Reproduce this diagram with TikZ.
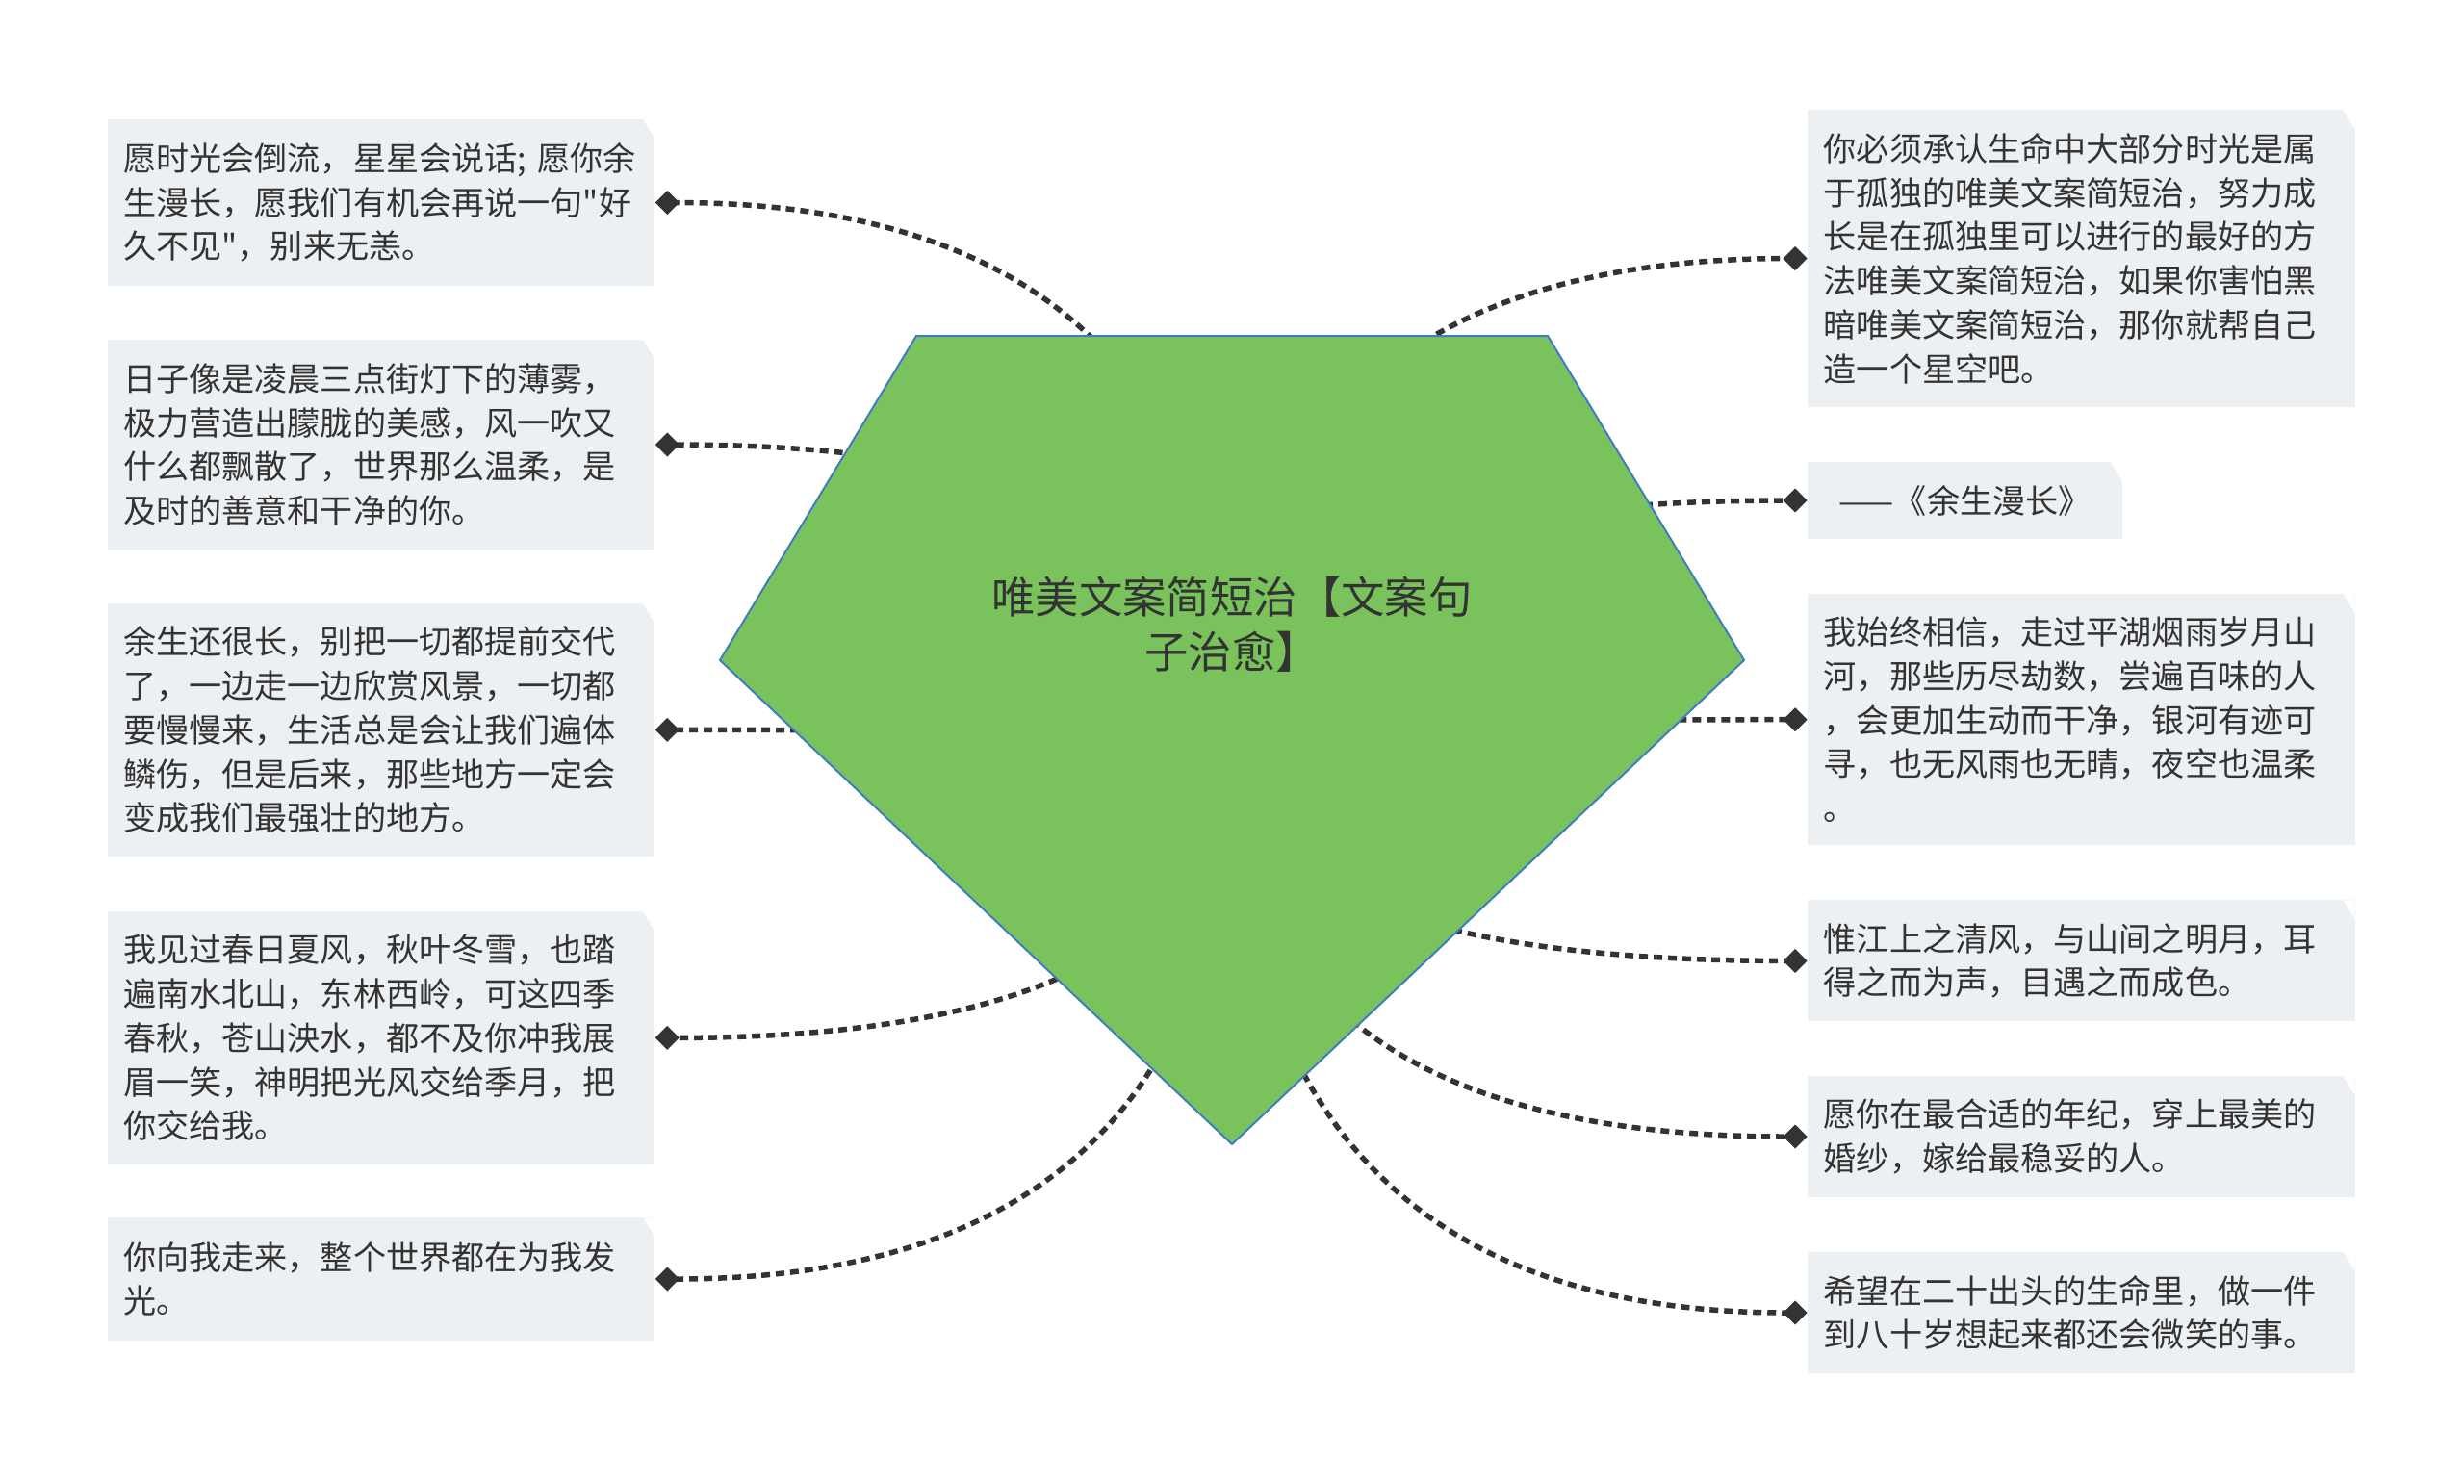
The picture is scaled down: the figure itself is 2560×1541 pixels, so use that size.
\documentclass[tikz,border=0pt]{standalone}
\usepackage{fontspec}
\setmainfont{Noto Sans CJK SC}
\usepackage{xcolor}
\usepackage{tikz}
\usetikzlibrary{arrows.meta,calc}

\definecolor{leaffill}{HTML}{EDF0F3}
\definecolor{hubgreen}{HTML}{7AC35C}
\definecolor{hubedge}{HTML}{3F7CC4}
\definecolor{inkgray}{HTML}{333333}

\begin{document}
\begin{tikzpicture}[
  x=0.01cm, y=-0.01cm,
  leaf/.style={rectangle,fill=leaffill,minimum width=5.68cm,text width=5.35cm,inner xsep=0.165cm,inner ysep=0.1cm,
    align=left,text=inkgray,font=\fontsize{9.7pt}{13pt}\selectfont,
    path picture={\fill[white] (path picture bounding box.north east) -- ++(-0.12cm,0cm) -- ++(0.12cm,-0.2cm) -- cycle;}},
  hub/.style={draw=hubedge,fill=hubgreen,line width=0.02cm},
  title/.style={align=center,text=inkgray,font=\fontsize{12.9pt}{16.2pt}\selectfont},
  link/.style={draw=inkgray,line width=0.055cm,dash pattern=on 0.09cm off 0.06cm,-{Diamond[length=0.25cm,width=0.25cm]},
    to path={.. controls ($(\tikztostart)!2/3!(\tikztostart |- \tikztotarget)$) and ($(\tikztotarget)!2/3!(\tikztostart |- \tikztotarget)$) .. (\tikztotarget)}}
]
  \useasboundingbox (0,0) rectangle (2560,1541);

  % Hub point behind the pentagon
  \coordinate (hub) at (1280,767);

  % Left leaves
  \node[leaf,minimum height=1.73cm,anchor=east] (l1) at (680.8,210.5) {愿时光会倒流，星星会说话; 愿你余\\生漫长，愿我们有机会再说一句\textquotedbl 好\\久不见\textquotedbl ，别来无恙。};
  \node[leaf,minimum height=2.187cm,anchor=east] (l2) at (680.8,462) {日子像是凌晨三点街灯下的薄雾，\\极力营造出朦胧的美感，风一吹又\\什么都飘散了，世界那么温柔，是\\及时的善意和干净的你。};
  \node[leaf,minimum height=2.628cm,anchor=east] (l3) at (680.8,758.4) {余生还很长，别把一切都提前交代\\了，一边走一边欣赏风景，一切都\\要慢慢来，生活总是会让我们遍体\\鳞伤，但是后来，那些地方一定会\\变成我们最强壮的地方。};
  \node[leaf,minimum height=2.628cm,anchor=east] (l4) at (680.8,1078.4) {我见过春日夏风，秋叶冬雪，也踏\\遍南水北山，东林西岭，可这四季\\春秋，苍山泱水，都不及你冲我展\\眉一笑，神明把光风交给季月，把\\你交给我。};
  \node[leaf,minimum height=1.274cm,anchor=east] (l5) at (680.8,1329) {你向我走来，整个世界都在为我发\\光。};

  % Right leaves
  \node[leaf,minimum height=3.086cm,anchor=west] (r1) at (1877.6,268.6) {你必须承认生命中大部分时光是属\\于孤独的唯美文案简短治，努力成\\长是在孤独里可以进行的最好的方\\法唯美文案简短治，如果你害怕黑\\暗唯美文案简短治，那你就帮自己\\造一个星空吧。};
  \node[leaf,minimum height=0.8cm,minimum width=3.265cm,text width=2.935cm,align=center,anchor=west] (r2) at (1877.6,520) {——《余生漫长》};
  \node[leaf,minimum height=2.614cm,anchor=west] (r3) at (1877.6,747.7) {我始终相信，走过平湖烟雨岁月山\\河，那些历尽劫数，尝遍百味的人\\，会更加生动而干净，银河有迹可\\寻，也无风雨也无晴，夜空也温柔\\。};
  \node[leaf,minimum height=1.258cm,anchor=west] (r4) at (1877.6,998.4) {惟江上之清风，与山间之明月，耳\\得之而为声，目遇之而成色。};
  \node[leaf,minimum height=1.258cm,anchor=west] (r5) at (1877.6,1181) {愿你在最合适的年纪，穿上最美的\\婚纱，嫁给最稳妥的人。};
  \node[leaf,minimum height=1.258cm,anchor=west] (r6) at (1877.6,1364) {希望在二十出头的生命里，做一件\\到八十岁想起来都还会微笑的事。};

  % Connectors
  \draw[link] (hub) to (l1.east);
  \draw[link] (hub) to (l2.east);
  \draw[link] (hub) to (l3.east);
  \draw[link] (hub) to (l4.east);
  \draw[link] (hub) to (l5.east);
  \draw[link] (hub) to (r1.west);
  \draw[link] (hub) to (r2.west);
  \draw[link] (hub) to (r3.west);
  \draw[link] (hub) to (r4.west);
  \draw[link] (hub) to (r5.west);
  \draw[link] (hub) to (r6.west);

  % Central pentagon with the title
  \draw[hub] (952,349) -- (1608,349) -- (1812,686) -- (1280,1189) -- (748,686) -- cycle;
  \node[title] (root) at (1280,649) {唯美文案简短治【文案句\\子治愈】};
\end{tikzpicture}
\end{document}
